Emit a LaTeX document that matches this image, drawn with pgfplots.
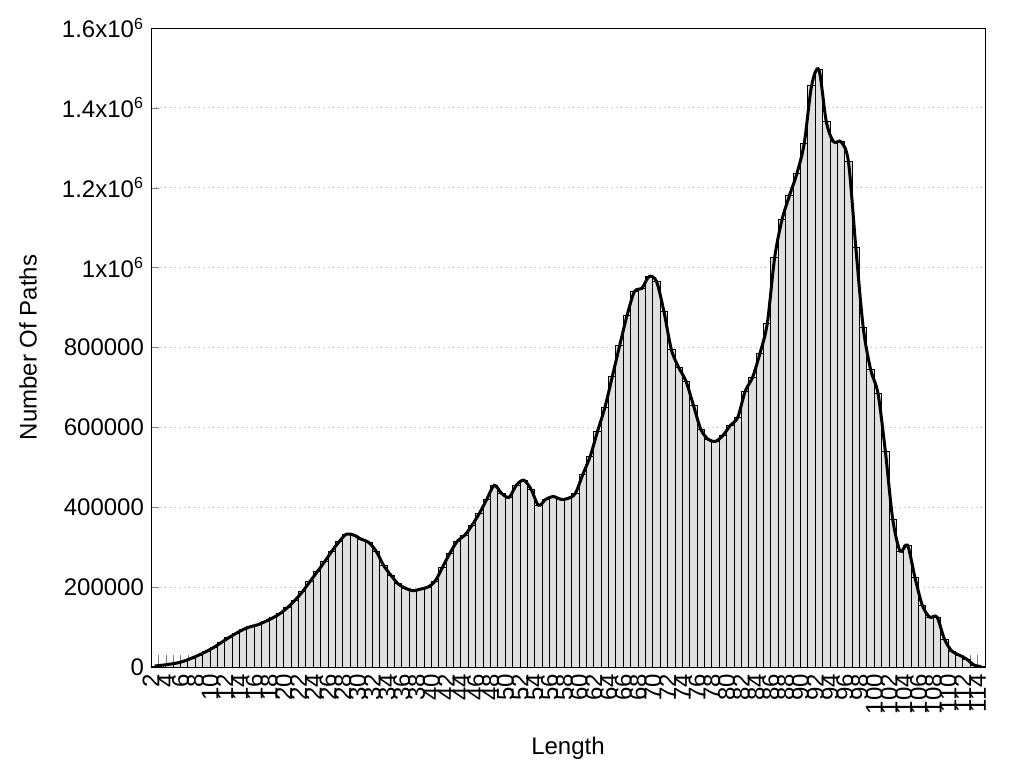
\documentclass[border=0pt]{standalone}
\usepackage{fontspec}
\setmainfont{Liberation Sans}
\usepackage{pgfplots}
\usepackage{pgfplotstable}
\pgfplotsset{compat=1.18}
\definecolor{barfill}{RGB}{224,224,224}

% path counts by length (bar n covers [n, n+1])
\pgfplotstableread{
n v
2 2500
3 4500
4 7000
5 10000
6 15000
7 22000
8 30000
9 39000
10 49000
11 61000
12 73000
13 84000
14 94000
15 101000
16 106000
17 114000
18 123000
19 134000
20 149000
21 167000
22 188000
23 213000
24 238000
25 263000
26 290000
27 314000
28 333000
29 330000
30 320000
31 312000
32 290000
33 255000
34 230000
35 208000
36 197000
37 191000
38 195000
39 200000
40 215000
41 250000
42 285000
43 315000
44 330000
45 355000
46 385000
47 420000
48 455000
49 435000
50 425000
51 455000
52 468000
53 445000
54 405000
55 420000
56 427000
57 420000
58 422000
59 435000
60 482000
61 527000
62 590000
63 650000
64 727000
65 805000
66 880000
67 940000
68 948000
69 978000
70 965000
71 890000
72 795000
73 750000
74 715000
75 655000
76 595000
77 570000
78 565000
79 580000
80 605000
81 625000
82 690000
83 725000
84 785000
85 860000
86 1025000
87 1120000
88 1180000
89 1235000
90 1310000
91 1455000
92 1495000
93 1365000
94 1315000
95 1315000
96 1265000
97 1050000
98 850000
99 745000
100 685000
101 540000
102 370000
103 290000
104 305000
105 225000
106 155000
107 125000
108 125000
109 70000
110 40000
111 30000
112 20000
113 5000
114 1000
}\data

\begin{document}
\begin{tikzpicture}
\path[use as bounding box] (-75.5pt,-50.5pt) rectangle (436.5pt,333.5pt);
\begin{axis}[
  at={(0,0)}, anchor=south west,
  scale only axis, width=417pt, height=319.5pt,
  xmin=2, xmax=115, ymin=0, ymax=1600000,
  xtick={2,4,...,114}, minor xtick={3,5,...,115},
  ytick={0,200000,...,1600000},
  yticklabels={0,200000,400000,600000,800000,1x10\textsuperscript{6},1.2x10\textsuperscript{6},1.4x10\textsuperscript{6},1.6x10\textsuperscript{6}},
  scaled y ticks=false,
  tick pos=left, tick align=inside,
  major tick length=4pt, minor tick length=6pt,
  xtick style={/pgfplots/major tick length=6pt},
  /pgf/number format/assume math mode=true,
  tick label style={font=\fontsize{12}{14}\selectfont},
  label style={font=\fontsize{12}{14}\selectfont},
  xticklabel style={rotate=90, anchor=east},
  ymajorgrids, grid style={dotted, gray!60},
  xlabel={Length}, ylabel={Number Of Paths},
  xlabel style={at={(axis description cs:0.5,-0.127)}, anchor=center},
  ylabel style={at={(axis description cs:-0.1475,0.5)}, anchor=center},
]
\addplot[ybar, bar width=1, bar shift=0pt, draw=black, line width=0.5pt, fill=barfill]
  table[x expr=\thisrow{n}+0.5, y=v] {\data};
\addplot[black, line width=1.5pt, smooth, mark=none]
  table[x expr=\thisrow{n}+0.5, y=v] {\data};
\end{axis}
\end{tikzpicture}
\end{document}
